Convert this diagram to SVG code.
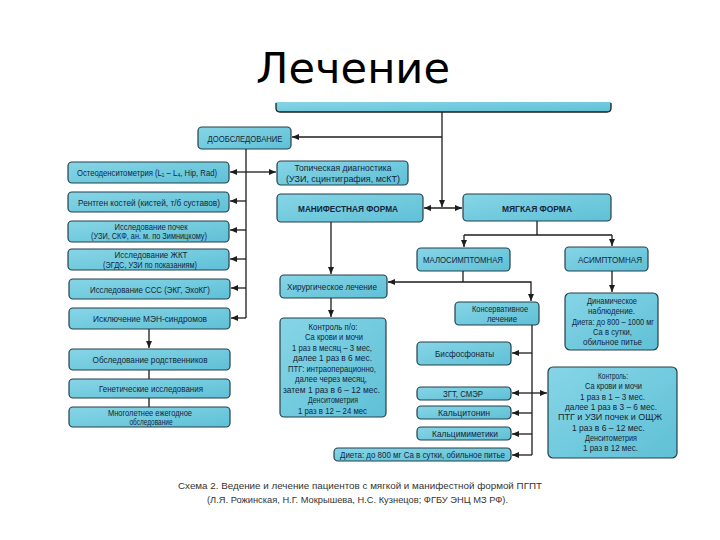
<svg xmlns="http://www.w3.org/2000/svg" width="720" height="540" viewBox="0 0 720 540">
<defs>
<linearGradient id="g" x1="0" y1="0" x2="1" y2="1">
<stop offset="0" stop-color="#86d5e6"/>
<stop offset="1" stop-color="#5fc0d6"/>
</linearGradient>
<marker id="ah" markerUnits="userSpaceOnUse" markerWidth="8" markerHeight="7" refX="7" refY="3" orient="auto-start-reverse">
<path d="M0,0 L7,3 L0,6 z" fill="#1d1d1d"/>
</marker>
</defs>
<style>
.b{fill:url(#g);stroke:#24404c;stroke-width:1.2}
.t{font-family:"Liberation Sans",Arial,sans-serif;font-size:9px;fill:#15253a;text-anchor:middle}
.bd{font-weight:bold}
.c{fill:none;stroke:#1d1d1d;stroke-width:1.3}
.a{marker-end:url(#ah)}
.cap{font-family:"Liberation Sans",Arial,sans-serif;font-size:9.5px;fill:#333;text-anchor:middle}
</style>
<rect width="720" height="540" fill="#fff"/>
<text x="256" y="83" font-family="DejaVu Sans, sans-serif" font-size="42" fill="#000" textLength="194" lengthAdjust="spacingAndGlyphs">Лечение</text>

<g id="top">
<path d="M276,102 L611,102 L611,108 Q611,112 607,112 L280,112 Q276,112 276,108 Z" fill="url(#g)"/>
<path d="M276,103 L276,108 Q276,112 280,112 L607,112 Q611,112 611,108 L611,103" class="c" stroke="#24404c" stroke-width="1.2"/>
</g>

<g id="dooblsed"><rect class="b" x="198" y="127" width="93" height="22" rx="4"/><text class="t" x="245" y="141.5" textLength="75" lengthAdjust="spacingAndGlyphs">ДООБСЛЕДОВАНИЕ</text></g>

<g id="osteo"><rect class="b" x="68" y="162" width="161" height="21" rx="4"/><text class="t" x="147" y="175.5" textLength="140" lengthAdjust="spacingAndGlyphs">Остеоденситометрия (L₁ – L₄, Hip, Rad)</text></g>
<g id="rentgen"><rect class="b" x="68" y="192" width="161" height="20" rx="4"/><text class="t" x="149" y="205.5" textLength="142" lengthAdjust="spacingAndGlyphs">Рентген костей (кистей, т/б суставов)</text></g>
<g id="pochki"><rect class="b" x="68" y="221" width="161" height="21" rx="4"/><text class="t" x="151" y="229.5" textLength="73" lengthAdjust="spacingAndGlyphs">Исследование почек</text><text class="t" x="149" y="239" textLength="116" lengthAdjust="spacingAndGlyphs">(УЗИ, СКФ, ан. м. по Зимницкому)</text></g>
<g id="zhkt"><rect class="b" x="68" y="249" width="161" height="21" rx="4"/><text class="t" x="151" y="258" textLength="73" lengthAdjust="spacingAndGlyphs">Исследование ЖКТ</text><text class="t" x="150" y="267.5" textLength="94" lengthAdjust="spacingAndGlyphs">(ЭГДС, УЗИ по показаниям)</text></g>
<g id="sss"><rect class="b" x="69" y="279" width="161" height="20" rx="4"/><text class="t" x="150" y="292.5" textLength="120" lengthAdjust="spacingAndGlyphs">Исследование ССС (ЭКГ, ЭхоКГ)</text></g>
<g id="men"><rect class="b" x="69" y="308" width="161" height="21" rx="4"/><text class="t" x="150" y="322" textLength="114" lengthAdjust="spacingAndGlyphs">Исключение МЭН-синдромов</text></g>
<g id="rodstv"><rect class="b" x="69" y="349" width="161" height="21" rx="4"/><text class="t" x="150" y="363" textLength="115" lengthAdjust="spacingAndGlyphs">Обследование родственников</text></g>
<g id="genet"><rect class="b" x="69" y="379" width="161" height="19" rx="4"/><text class="t" x="151" y="392" textLength="104" lengthAdjust="spacingAndGlyphs">Генетические исследования</text></g>
<g id="mnogolet"><rect class="b" x="69" y="407" width="161" height="20" rx="4"/><text class="t" x="150" y="415.5" font-size="8" textLength="84" lengthAdjust="spacingAndGlyphs">Многолетнее ежегодное</text><text class="t" x="151" y="425" font-size="8" textLength="43" lengthAdjust="spacingAndGlyphs">обследование</text></g>

<g id="topich"><rect class="b" x="277" y="161" width="131" height="24" rx="4"/><text class="t" x="343" y="170.5" textLength="97" lengthAdjust="spacingAndGlyphs">Топическая диагностика</text><text class="t" x="343" y="181.5" textLength="114" lengthAdjust="spacingAndGlyphs">(УЗИ, сцинтиграфия, мсКТ)</text></g>
<g id="manif"><rect class="b" x="277" y="194" width="146" height="28" rx="4"/><text class="t bd" x="348" y="211.5" textLength="100" lengthAdjust="spacingAndGlyphs">МАНИФЕСТНАЯ ФОРМА</text></g>
<g id="myag"><rect class="b" x="463" y="194" width="148" height="27" rx="4"/><text class="t bd" x="537" y="211.5" textLength="70" lengthAdjust="spacingAndGlyphs">МЯГКАЯ ФОРМА</text></g>
<g id="malo"><rect class="b" x="417" y="248" width="93" height="23" rx="4"/><text class="t" x="463" y="263" textLength="80" lengthAdjust="spacingAndGlyphs">МАЛОСИМПТОМНАЯ</text></g>
<g id="asim"><rect class="b" x="565" y="247" width="83" height="24" rx="4"/><text class="t" x="610" y="263" textLength="64" lengthAdjust="spacingAndGlyphs">АСИМПТОМНАЯ</text></g>

<g id="hirurg"><rect class="b" x="280" y="275" width="107" height="23" rx="4"/><text class="t" x="332" y="289.5" textLength="90" lengthAdjust="spacingAndGlyphs">Хирургическое лечение</text></g>
<g id="kontrol-po"><rect class="b" x="280" y="318" width="106" height="99" rx="4"/>
<text class="t" x="333" y="329.5" textLength="49" lengthAdjust="spacingAndGlyphs">Контроль п/о:</text>
<text class="t" x="334" y="340" textLength="58" lengthAdjust="spacingAndGlyphs">Са крови и мочи</text>
<text class="t" x="332" y="350.5" textLength="80" lengthAdjust="spacingAndGlyphs">1 раз в месяц – 3 мес,</text>
<text class="t" x="332.5" y="361" textLength="79" lengthAdjust="spacingAndGlyphs">далее 1 раз в 6 мес.</text>
<text class="t" x="332" y="371.5" textLength="88" lengthAdjust="spacingAndGlyphs">ПТГ: интраоперационно,</text>
<text class="t" x="331" y="382" textLength="72" lengthAdjust="spacingAndGlyphs">далее через месяц,</text>
<text class="t" x="331.5" y="392.5" textLength="97" lengthAdjust="spacingAndGlyphs">затем 1 раз в 6 – 12 мес.</text>
<text class="t" x="333" y="403" textLength="50" lengthAdjust="spacingAndGlyphs">Денситометрия</text>
<text class="t" x="332.5" y="413.5" textLength="69" lengthAdjust="spacingAndGlyphs">1 раз в 12 – 24 мес</text>
</g>
<g id="konserv"><rect class="b" x="455" y="302" width="84" height="23" rx="4"/><text class="t" x="500" y="312" textLength="56" lengthAdjust="spacingAndGlyphs">Консервативное</text><text class="t" x="502" y="321.5" textLength="30" lengthAdjust="spacingAndGlyphs">лечение</text></g>
<g id="bisfosf"><rect class="b" x="417" y="342" width="94" height="23" rx="4"/><text class="t" x="464.5" y="356.5" textLength="59" lengthAdjust="spacingAndGlyphs">Бисфосфонаты</text></g>
<g id="zgt"><rect class="b" x="417" y="387" width="94" height="13" rx="4"/><text class="t" x="463" y="396.5" textLength="40" lengthAdjust="spacingAndGlyphs">ЗГТ, СМЭР</text></g>
<g id="kalciton"><rect class="b" x="417" y="406" width="94" height="13" rx="4"/><text class="t" x="464" y="415.5" textLength="52" lengthAdjust="spacingAndGlyphs">Кальцитонин</text></g>
<g id="kalcimim"><rect class="b" x="417" y="427" width="94" height="13" rx="4"/><text class="t" x="465" y="436.5" textLength="66" lengthAdjust="spacingAndGlyphs">Кальцимиметики</text></g>
<g id="dieta"><rect class="b" x="334" y="448" width="177" height="13" rx="4"/><text class="t" x="422.5" y="457.5" textLength="165" lengthAdjust="spacingAndGlyphs">Диета: до 800 мг Са в сутки, обильное питье</text></g>

<g id="dinam"><rect class="b" x="565" y="293" width="93" height="57" rx="5"/>
<text class="t" x="612" y="304" textLength="50" lengthAdjust="spacingAndGlyphs">Динамическое</text>
<text class="t" x="611.5" y="314" textLength="47" lengthAdjust="spacingAndGlyphs">наблюдение.</text>
<text class="t" x="613" y="324.5" textLength="82" lengthAdjust="spacingAndGlyphs">Диета: до 800 – 1000 мг</text>
<text class="t" x="612.5" y="334.5" textLength="39" lengthAdjust="spacingAndGlyphs">Са в сутки,</text>
<text class="t" x="612.5" y="345" textLength="59" lengthAdjust="spacingAndGlyphs">обильное питье</text>
</g>
<g id="kontrol-as"><rect class="b" x="548" y="367" width="129" height="91" rx="5"/>
<text class="t" x="613" y="379" textLength="30" lengthAdjust="spacingAndGlyphs">Контроль:</text>
<text class="t" x="613.5" y="389.3" textLength="57" lengthAdjust="spacingAndGlyphs">Са крови и мочи</text>
<text class="t" x="612.5" y="399.6" textLength="65" lengthAdjust="spacingAndGlyphs">1 раз в 1 – 3 мес.</text>
<text class="t" x="611" y="409.9" textLength="92" lengthAdjust="spacingAndGlyphs">далее 1 раз в 3 – 6 мес.</text>
<text class="t" x="610" y="420.2" textLength="104" lengthAdjust="spacingAndGlyphs">ПТГ и УЗИ почек и ОЩЖ</text>
<text class="t" x="608.5" y="430.5" textLength="73" lengthAdjust="spacingAndGlyphs">1 раз в 6 – 12 мес.</text>
<text class="t" x="611" y="440.8" textLength="52" lengthAdjust="spacingAndGlyphs">Денситометрия</text>
<text class="t" x="610.5" y="451.1" textLength="55" lengthAdjust="spacingAndGlyphs">1 раз в 12 мес.</text>
</g>

<g id="connectors">
<path class="c a" d="M442,112 V207"/>
<path class="c a" d="M442,137 H292"/>
<path class="c" stroke-width="2" d="M424,208 H462" marker-start="url(#ah)" marker-end="url(#ah)"/>
<path class="c" d="M246,149 V318"/>
<path class="c a" d="M246,172 H230"/>
<path class="c a" d="M246,172 H276"/>
<path class="c a" d="M246,201 H230"/>
<path class="c a" d="M246,230 H230"/>
<path class="c a" d="M246,259 H230"/>
<path class="c a" d="M246,288 H231"/>
<path class="c a" d="M246,318 H231"/>
<path class="c a" d="M149,329 V348"/>
<path class="c" d="M149,370 V379 M149,398 V407"/>
<path class="c a" d="M331,222 V274"/>
<path class="c a" d="M331,298 V317"/>
<path class="c" d="M537,221 V235 M464,235 H612"/>
<path class="c a" d="M464,235 V247"/>
<path class="c a" d="M612,235 V246"/>
<path class="c" d="M463,271 V282"/>
<path class="c a" d="M463,282 H388"/>
<path class="c a" d="M463,282 H531 V301"/>
<path class="c a" d="M612,271 V292"/>
<path class="c" d="M532,325 V455"/>
<path class="c a" d="M532,353 H512"/>
<path class="c a" d="M532,393 H512"/>
<path class="c a" d="M532,393 H547"/>
<path class="c a" d="M532,413 H512"/>
<path class="c a" d="M532,434 H512"/>
<path class="c a" d="M532,455 H512"/>
</g>

<text class="cap" x="360" y="489" textLength="364" lengthAdjust="spacingAndGlyphs">Схема 2. Ведение и лечение пациентов с мягкой и манифестной формой ПГПТ</text>
<text class="cap" x="357.5" y="503" textLength="301" lengthAdjust="spacingAndGlyphs">(Л.Я. Рожинская, Н.Г. Мокрышева, Н.С. Кузнецов; ФГБУ ЭНЦ МЗ РФ).</text>
</svg>
